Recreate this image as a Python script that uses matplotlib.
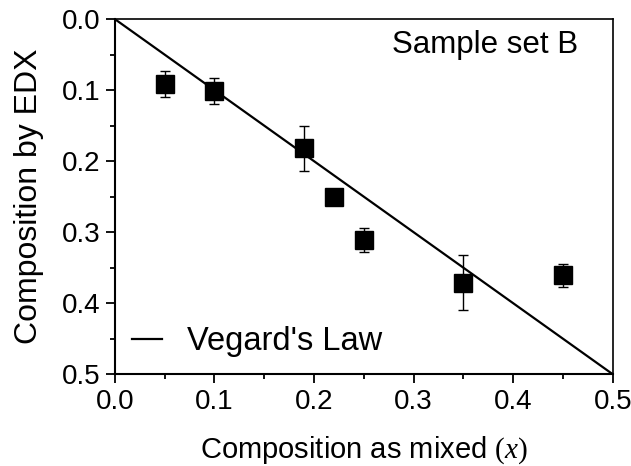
import matplotlib
matplotlib.use("Agg")
import matplotlib.pyplot as plt
from matplotlib.ticker import MultipleLocator, FormatStrFormatter

plt.rcParams["font.family"] = ["Liberation Sans", "DejaVu Sans"]
plt.rcParams["mathtext.fontset"] = "custom"
plt.rcParams["mathtext.it"] = "Liberation Serif:italic"
plt.rcParams["mathtext.rm"] = "Liberation Serif"

# EDX composition vs. nominal (mixed) composition, sample set B
x_mixed = [0.05, 0.10, 0.19, 0.22, 0.25, 0.35, 0.45]
x_edx = [0.091, 0.101, 0.182, 0.251, 0.311, 0.371, 0.361]
x_edx_err = [0.018, 0.018, 0.032, 0.005, 0.017, 0.039, 0.016]

vegard_x = [0.0, 0.5]
vegard_y = [0.0, 0.5]

fig = plt.figure(figsize=(6.31, 4.66), dpi=100)
ax = fig.add_axes([0.182, 0.197, 0.789, 0.762])

ax.plot(vegard_x, vegard_y, "-", color="k", lw=1.6, label="Vegard's Law")
ax.errorbar(x_mixed, x_edx, yerr=x_edx_err, fmt="s", color="k", ms=13.5,
            ecolor="k", elinewidth=1.0, capsize=3.5, capthick=1.0)

ax.set_xlim(0.0, 0.5)
ax.set_ylim(0.5, 0.0)
ax.xaxis.set_major_locator(MultipleLocator(0.1))
ax.xaxis.set_minor_locator(MultipleLocator(0.05))
ax.yaxis.set_major_locator(MultipleLocator(0.1))
ax.yaxis.set_minor_locator(MultipleLocator(0.05))
ax.xaxis.set_major_formatter(FormatStrFormatter("%.1f"))
ax.yaxis.set_major_formatter(FormatStrFormatter("%.1f"))

ax.tick_params(which="both", direction="out", top=False, right=False,
               width=1.3, labelsize=20)
ax.tick_params(which="major", length=6.5, pad=4)
ax.tick_params(which="minor", length=3.6)
for side in ("left", "bottom"):
    ax.spines[side].set_linewidth(1.5)
for side in ("top", "right"):
    ax.spines[side].set_linewidth(1.2)

ax.set_xlabel("Composition as mixed $(x)$", fontsize=21, labelpad=14)
ax.set_ylabel("Composition by EDX", fontsize=23, labelpad=13)

ax.text(0.465, 0.037, "Sample set B", ha="right", va="center", fontsize=22.5)
ax.legend(loc="lower left", frameon=False, fontsize=23.5, handlelength=0.92,
          handletextpad=0.77, borderaxespad=0.12)

fig.savefig("out.png", dpi=100)
